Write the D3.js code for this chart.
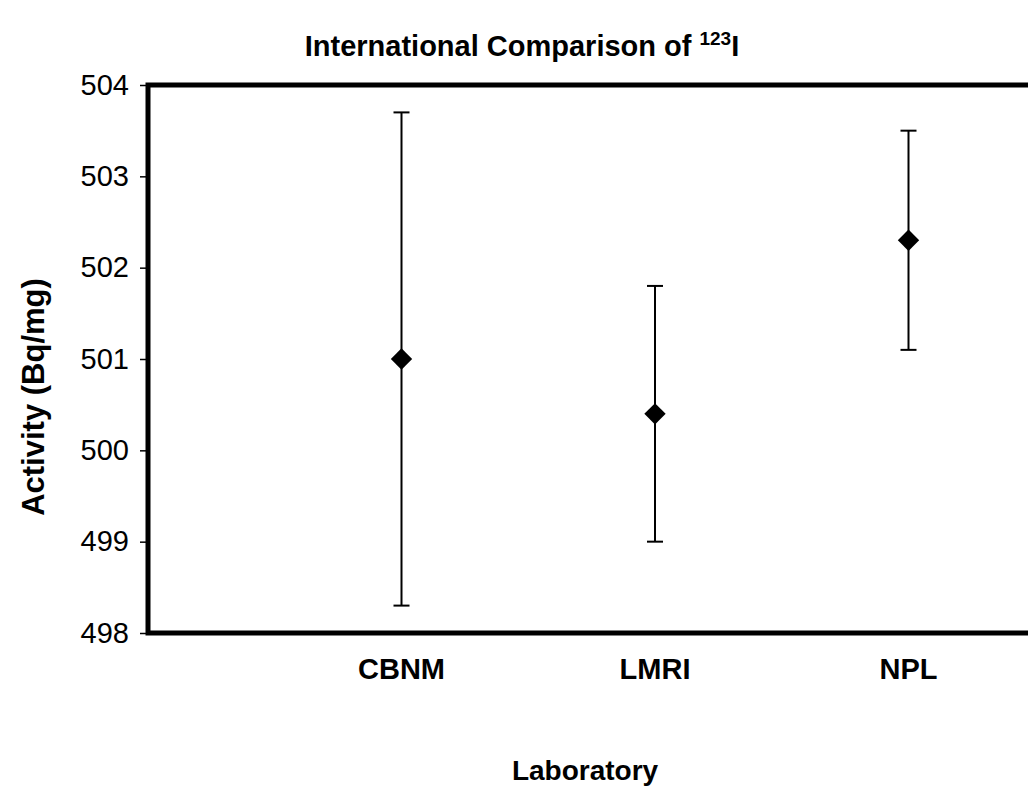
<!DOCTYPE html>
<html lang="en">
<head>
  <meta charset="utf-8">
  <title>International Comparison of 123I</title>
  <script src="https://d3js.org/d3.v7.min.js"></script>
  <style type="text/css">
    body { margin: 0; background: #fff; }
    text { font-family: "Liberation Sans", Arial, sans-serif; fill: #000; }
  </style>
</head>
<body>
  <script type="text/javascript">
    // chart data
    var labs = ["CBNM", "LMRI", "NPL"];
    var activity = [501.0, 500.4, 502.3];
    var lower = [498.3, 499.0, 501.1];
    var upper = [503.7, 501.8, 503.5];
    var yTicks = [498, 499, 500, 501, 502, 503, 504];

    var w = 1028, h = 789;
    var margin = { top: 85, left: 148, bottom: 156 };

    var svg = d3.select("body").append("svg")
      .attr("width", w)
      .attr("height", h);

    // x positions 1..3, plot runs off the right edge like the original
    var x = d3.scaleLinear().domain([0, 4]).range([margin.left, margin.left + 4 * 253.5]);
    var y = d3.scaleLinear().domain([498, 504]).range([h - margin.bottom, margin.top]);

    // y axis with small outer ticks
    var yAxis = svg.append("g")
      .attr("transform", "translate(" + margin.left + ",0)")
      .call(d3.axisLeft(y).tickValues(yTicks).tickSize(8).tickPadding(11).tickFormat(d3.format("d")));
    yAxis.select(".domain").remove();
    yAxis.selectAll("line").attr("stroke", "#000").attr("stroke-width", 1.5);
    yAxis.selectAll("text").style("font-size", "29px").style("font-family", "Liberation Sans, Arial, sans-serif");

    // plot frame (thick)
    svg.append("path")
      .attr("d", "M" + (w + 10) + "," + y(504) + "H" + x(0) + "V" + y(498) + "H" + (w + 10))
      .attr("fill", "none")
      .attr("stroke", "#000")
      .attr("stroke-width", 5);

    var data = labs.map(function (d, i) {
      return { lab: d, v: activity[i], lo: lower[i], hi: upper[i], pos: i + 1 };
    });

    // error bars
    var eb = svg.append("g").selectAll("g").data(data).enter().append("g");
    eb.append("line")
      .attr("x1", function (d) { return x(d.pos); })
      .attr("x2", function (d) { return x(d.pos); })
      .attr("y1", function (d) { return y(d.lo); })
      .attr("y2", function (d) { return y(d.hi); })
      .attr("stroke", "#000").attr("stroke-width", 2);
    eb.selectAll(".cap")
      .data(function (d) { return [{ p: d.pos, v: d.lo }, { p: d.pos, v: d.hi }]; })
      .enter().append("line")
      .attr("class", "cap")
      .attr("x1", function (d) { return x(d.p) - 8; })
      .attr("x2", function (d) { return x(d.p) + 8; })
      .attr("y1", function (d) { return y(d.v); })
      .attr("y2", function (d) { return y(d.v); })
      .attr("stroke", "#000").attr("stroke-width", 2);

    // diamond markers
    svg.append("g").selectAll("path").data(data).enter().append("path")
      .attr("d", d3.symbol().type(d3.symbolDiamond2).size(290))
      .attr("transform", function (d) { return "translate(" + x(d.pos) + "," + y(d.v) + ")"; })
      .attr("fill", "#000");

    // category labels
    svg.append("g").selectAll("text").data(data).enter().append("text")
      .attr("x", function (d) { return x(d.pos); })
      .attr("y", y(498) + 46)
      .attr("text-anchor", "middle")
      .style("font-size", "29px")
      .style("font-weight", "bold")
      .text(function (d) { return d.lab; });

    // title with superscript
    var title = svg.append("text")
      .attr("x", 522)
      .attr("y", 56)
      .attr("text-anchor", "middle")
      .style("font-size", "29px")
      .style("font-weight", "bold");
    title.append("tspan").text("International Comparison of ");
    title.append("tspan").attr("dy", -11).style("font-size", "19px").text("123");
    title.append("tspan").attr("dy", 11).text("I");

    // axis titles
    svg.append("text")
      .attr("x", 585)
      .attr("y", 780)
      .attr("text-anchor", "middle")
      .style("font-size", "28px")
      .style("font-weight", "bold")
      .text("Laboratory");

    svg.append("text")
      .attr("transform", "translate(44,397) rotate(-90)")
      .attr("text-anchor", "middle")
      .style("font-size", "31px")
      .style("font-weight", "bold")
      .text("Activity (Bq/mg)");
  </script>
</body>
</html>
